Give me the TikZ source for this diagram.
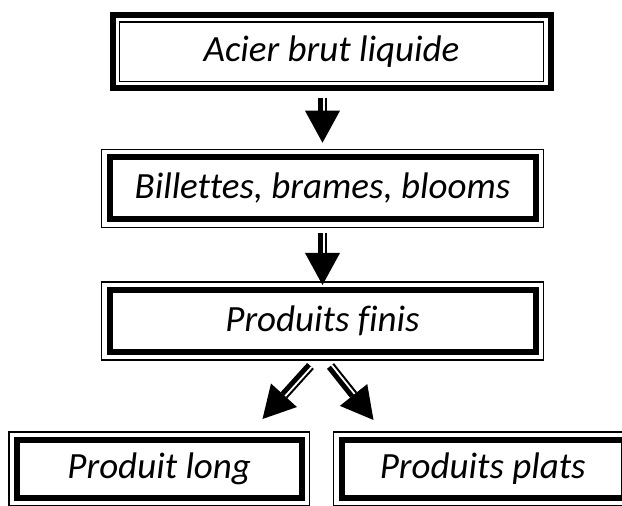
\documentclass[tikz,border=0pt]{standalone}
\usepackage{fontspec}
\setmainfont[Ligatures=NoCommon]{Carlito}
\usetikzlibrary{calc}

% big arrow: tail, tip
\newcommand\bigarrow[2]{%
  \coordinate (ba) at ($(#2)!32pt!(#1)$);
  \draw[shaft] (#1) -- (ba);
  \draw[slit] ($(#1)!1.5pt!90:(#2)$) -- ($(ba)!1.5pt!-90:(#1)$);
  \fill ($(ba)!17.5pt!90:(#2)$) -- (#2) -- ($(ba)!17.5pt!-90:(#2)$) -- cycle;
}

\begin{document}
\begin{tikzpicture}[x=1pt,y=1pt,
  box/.style={draw, line width=6pt, outer sep=0pt, inner sep=0pt,
    font=\fontsize{37}{44}\selectfont\itshape},
  rim/.style={draw, line width=1.3pt},
  shaft/.style={line width=9pt},
  slit/.style={white, line width=1.8pt}]
\useasboundingbox (0,0) rectangle (622,506);

\node[box, minimum width=438, minimum height=73.5] (acier) at (331.5,454.25) {Acier brut liquide};
\node[box, minimum width=426, minimum height=62] (billettes) at (322.5,317.75) {Billettes, brames, blooms};
\node[box, minimum width=426, minimum height=62] (produits) at (322.5,185) {Produits finis};
\node[box, minimum width=284.5, minimum height=58] (long) at (159.25,37) {Produit long};
\node[box, minimum width=282.5, minimum height=58] (plats) at (482.75,37) {Produits plats};

% thin frames
\draw[rim] ([shift={(7,-7)}]acier.north west) rectangle ([shift={(-7,7)}]acier.south east);
\foreach \n in {billettes,produits,long,plats}
  \draw[rim] ([shift={(-8,8)}]\n.north west) rectangle ([shift={(8,-8)}]\n.south east);

% arrows
\coordinate (t1) at ($(acier.south -| billettes.north)+(0,-9.5)$);
\coordinate (p1) at ($(billettes.north)+(0,14.5)$);
\coordinate (t2) at ($(billettes.south)+(0,-14)$);
\coordinate (p2) at ($(produits.north)+(0,5)$);
\coordinate (t3) at ($(produits.south)+(-12,-14)$);
\coordinate (p3) at ($(produits.south)+(-60,-67)$);
\coordinate (t4) at ($(produits.south)+(8,-14)$);
\coordinate (p4) at ($(produits.south)+(51,-68)$);
\bigarrow{t1}{p1}
\bigarrow{t2}{p2}
\bigarrow{t3}{p3}
\bigarrow{t4}{p4}
\end{tikzpicture}
\end{document}
